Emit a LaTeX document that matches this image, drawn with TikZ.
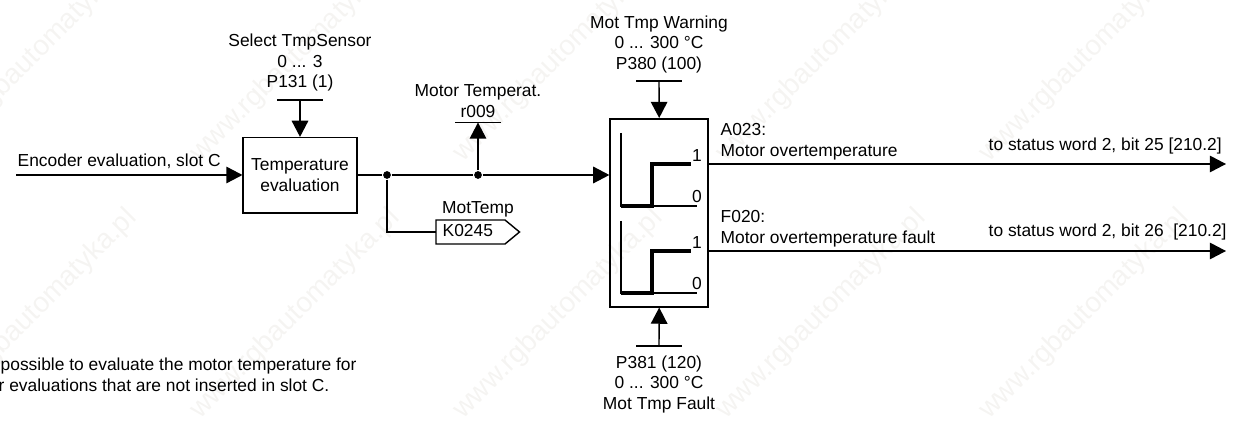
\documentclass[tikz,border=0pt]{standalone}
\usepackage{fontspec}
\setmainfont{Liberation Sans}
\usetikzlibrary{arrows.meta}
\definecolor{markgray}{RGB}{245,244,242}
\begin{document}
\begin{tikzpicture}[x=0.02cm,y=-0.02cm,font=\fontsize{9.9}{11.7}\selectfont,line width=0.8pt,
  sig/.style={-{Triangle[length=9.2pt,width=9.4pt]}},
  block/.style={draw,line width=0.9pt,inner sep=0pt},
  stepline/.style={line width=2pt,line join=miter},
  dot/.style={circle,fill=black,inner sep=0pt,minimum size=4.4pt},
  lbl/.style={align=center,inner sep=0pt},
  txt/.style={anchor=west,align=left,inner sep=0pt}]
  \useasboundingbox (0,0) rectangle (1236,421);
  % watermark
  \foreach \x in {-63,200,463,726,989,1252}
    \foreach \y in {163,420}
      \node[anchor=base west,rotate=45,inner sep=0pt,text=markgray,font=\fontsize{16}{16}\selectfont]
        (wm\x\y) at (\x,\y) {www.rgbautomatyka.pl};
  % blocks
  \node[block,minimum width=64.6pt,minimum height=42.8pt,lbl] (eval) at (300,175.3) {Temperature\\evaluation};
  \node[block,minimum width=55.8pt,minimum height=107pt] (limit) at (659.2,212.8) {};
  \draw[line width=0.8pt] (436,220) coordinate (kbox) -- (505,220) -- (519.5,232) coordinate (ktip)
    -- (505,244) -- (436,244) -- cycle;
  \node[txt] (kname) at (442,231) {K0245};
  \node[lbl] (ktext) at (478,209.5) {MotTemp};
  % sources and bars
  \coordinate (encin) at (16,175);
  \coordinate (sensbar) at (300,100);
  \coordinate (readbar) at (478,122.5);
  \coordinate (warnbar) at (659,81);
  \coordinate (faultbar) at (659,346);
  \coordinate (out1) at (1226,164);
  \coordinate (out2) at (1226,251);
  \node[dot] (j1) at (387,175) {};
  \node[dot] (j2) at (478,175) {};
  \foreach \b/\w in {sensbar/23,readbar/23,warnbar/23,faultbar/23}
    \draw ([xshift=-\w*0.02cm]\b) -- ([xshift=\w*0.02cm]\b);
  % signals
  \draw[sig] (encin) -- (eval.west |- encin);
  \draw (eval.east |- j1) -- (j1);
  \draw (j1) -- (j2);
  \draw[sig] (j2) -- (limit.west |- j2);
  \draw[sig] (sensbar) -- (eval.north);
  \draw[sig] (j2) -- (readbar);
  \draw[sig] (warnbar) -- (limit.north);
  \draw[sig] (faultbar) -- (limit.south);
  \draw (j1) |- (kbox |- ktip);
  \draw[sig] (limit.east |- out1) -- (out1);
  \draw[sig] (limit.east |- out2) -- (out2);
  % hysteresis curves
  \foreach \y/\t in {206/133,293/221} {
    \draw (621,\t) -- (621,\y) -- (697,\y);
    \draw[stepline] (621,\y) -- (652,\y) -- (652,\y-42) -- (691,\y-42);
    \node[lbl] (one\y) at (697,\y-50) {1};
    \node[lbl] (zero\y) at (697,\y-9) {0};
  }
  % labels
  \node[txt] (encl) at (17,161) {Encoder evaluation, slot C};
  \node[lbl,anchor=south] (sens) at (300,92) {Select TmpSensor\\0 ... 3\\P131 (1)};
  \node[lbl,anchor=south] (read) at (478,118) {Motor Temperat.\\r009};
  \node[lbl,anchor=south] (warn) at (659,73.5) {Mot Tmp Warning\\0 ... 300 °C\\P380 (100)};
  \node[lbl,anchor=north] (fault) at (659,355) {P381 (120)\\0 ... 300 °C\\Mot Tmp Fault};
  \node[txt] (a023) at (720,142) {A023:\\Motor overtemperature};
  \node[txt] (f020) at (720,229) {F020:\\Motor overtemperature fault};
  \node[txt] (st25) at (988,146.5) {to status word 2, bit 25 [210.2]};
  \node[txt] (st26) at (988,232.5) {to status word 2, bit 26~ [210.2]};
  \node[txt] (note1) at (0,366) {possible to evaluate the motor temperature for};
  \node[txt] (note2) at (-2,385) {r evaluations that are not inserted in slot C.};
\end{tikzpicture}
\end{document}
